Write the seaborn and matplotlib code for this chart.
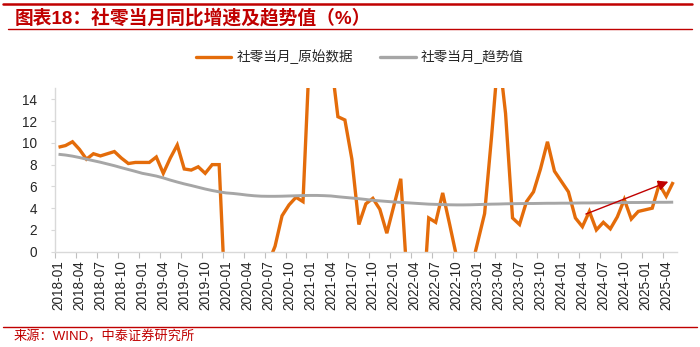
import numpy as np
import pandas as pd
import matplotlib
matplotlib.use("Agg")
import matplotlib.pyplot as plt
from matplotlib.lines import Line2D
import seaborn as sns

# ---------------- data ----------------
start_month = "2018-01"
n_months = 89  # 2018-01 .. 2025-05

raw_values = [
    9.6, 9.75, 10.1, 9.4, 8.5, 9.0, 8.8, 9.0, 9.2, 8.6, 8.1, 8.2,
    8.2, 8.2, 8.7, 7.2, 8.6, 9.8, 7.6, 7.5, 7.8, 7.2, 8.0, 8.0,
    -6.25, -20.5, -15.8, -7.5, -2.8, -1.8, -1.1, 0.5, 3.3, 4.3, 5.0, 4.6,
    19.2, 33.8, 34.2, 17.7, 12.4, 12.1, 8.5, 2.5, 4.4, 4.9, 3.9, 1.7,
    4.2, 6.7, -3.5, -11.1, -6.7, 3.1, 2.7, 5.4, 2.5, -0.5, -5.9, -1.8,
    0.85, 3.5, 10.6, 18.4, 12.7, 3.1, 2.5, 4.6, 5.5, 7.6, 10.1, 7.4,
    6.45, 5.5, 3.1, 2.3, 3.7, 2.0, 2.7, 2.1, 3.2, 4.8, 3.0, 3.7,
    3.85, 4.0, 6.2, 5.1, 6.4,
]

trend_values = [
    8.95, 8.88, 8.78, 8.65, 8.5, 8.36, 8.22, 8.06, 7.9, 7.72, 7.55, 7.38,
    7.2, 7.08, 6.95, 6.78, 6.58, 6.4, 6.23, 6.08, 5.92, 5.76, 5.62, 5.5,
    5.4, 5.35, 5.28, 5.2, 5.14, 5.1, 5.09, 5.09, 5.1, 5.12, 5.14, 5.16,
    5.17, 5.17, 5.15, 5.12, 5.05, 4.99, 4.93, 4.87, 4.8, 4.72, 4.67, 4.62,
    4.57, 4.53, 4.49, 4.45, 4.41, 4.37, 4.35, 4.33, 4.31, 4.3, 4.3, 4.31,
    4.33, 4.35, 4.37, 4.38, 4.4, 4.41, 4.42, 4.43, 4.43, 4.44, 4.45, 4.45,
    4.46, 4.46, 4.47, 4.48, 4.48, 4.49, 4.5, 4.5, 4.51, 4.51, 4.52, 4.52,
    4.53, 4.53, 4.54, 4.54, 4.55,
]

months = pd.period_range(start_month, periods=n_months, freq="M").strftime("%Y-%m").tolist()
label_step = 3
y_ticks = [0, 2, 4, 6, 8, 10, 12, 14]

series_raw = "社零当月_原始数据"
series_trend = "社零当月_趋势值"
title_text = "图表18：社零当月同比增速及趋势值（%）"
source_text = "来源：WIND，中泰证券研究所"

# trend arrow (start -> end) in data coords
arrow_start = (76.0, 3.46)
arrow_end = (87.8, 6.43)

# ---------------- style ----------------
sns.set_theme(style="white")
plt.rcParams["font.family"] = ["Liberation Sans", "Noto Sans CJK SC", "DejaVu Sans"]

ORANGE = "#E46C0A"
GRAY = "#A6A6A6"
RED = "#C00000"

pos = np.arange(n_months) + 0.5
df = pd.DataFrame({
    "x": np.concatenate([pos, pos]),
    "value": raw_values + trend_values,
    "series": [series_raw] * n_months + [series_trend] * n_months,
})

fig = plt.figure(figsize=(7.0, 3.47), dpi=100)
ax = fig.add_axes([0.0786, 0.2746, 0.9667 - 0.0786, 0.7452 - 0.2746])

sns.lineplot(data=df, x="x", y="value", hue="series",
             palette={series_raw: ORANGE, series_trend: GRAY},
             linewidth=2.3, ax=ax, legend=False, sort=False)
for ln, w in zip(ax.lines, [2.4, 2.1]):
    ln.set_linewidth(w)
    ln.set_solid_capstyle("butt")
    ln.set_solid_joinstyle("miter")

ax.set_xlim(0, n_months)
ax.set_ylim(0, 15)
ax.set_xlabel("")
ax.set_ylabel("")

# x ticks: marks at category boundaries, labels at category centres
major = np.arange(0, n_months, label_step)
ax.set_xticks(major)
ax.set_xticklabels([])
ax.set_xticks(major + 0.5, minor=True)
ax.set_xticklabels([months[i] for i in major], minor=True, rotation=90,
                   fontsize=9.8, color="#262626")
ax.tick_params(axis="x", which="major", length=4, width=0.8, color="#BFBFBF",
               direction="out", bottom=True)
ax.tick_params(axis="x", which="minor", length=0, pad=6, bottom=True)

ax.set_yticks(y_ticks)
ax.set_yticklabels([str(v) for v in y_ticks], fontsize=9.8, color="#262626")
ax.tick_params(axis="y", length=3, width=0.8, color="#D9D9D9", direction="out",
               left=True, pad=10)

for s in ["top", "right"]:
    ax.spines[s].set_visible(False)
ax.spines["left"].set_color("#D9D9D9")
ax.spines["left"].set_linewidth(1.0)
ax.spines["bottom"].set_color("#D9D9D9")
ax.spines["bottom"].set_linewidth(1.0)
ax.grid(False)

ax.annotate("", xy=arrow_end, xytext=arrow_start,
            arrowprops=dict(arrowstyle="-|>", color=RED, lw=1.0,
                            mutation_scale=15, shrinkA=0, shrinkB=0))

# legend
handles = [Line2D([], [], color=ORANGE, lw=2.4), Line2D([], [], color=GRAY, lw=2.4)]
fig.legend(handles, [series_raw, series_trend], loc="center",
           bbox_to_anchor=(0.514, 0.836), ncol=2, frameon=False,
           fontsize=9.8, handlelength=2.6, columnspacing=2.0, handletextpad=0.4)

# title and decorative rules
fig.add_artist(Line2D([0.004, 0.988], [1 - 4 / 347, 1 - 4 / 347],
                      transform=fig.transFigure, color=RED, lw=1.8))
fig.add_artist(Line2D([0.012, 0.988], [1 - 29 / 347, 1 - 29 / 347],
                      transform=fig.transFigure, color=RED, lw=1.0))
fig.text(15 / 700, 1 - 18 / 347, title_text, color=RED, fontsize=13.5,
         fontweight="bold", ha="left", va="center")

fig.add_artist(Line2D([0.004, 0.995], [1 - 327 / 347, 1 - 327 / 347],
                      transform=fig.transFigure, color=RED, lw=1.0))
fig.text(14 / 700, 1 - 336.5 / 347, source_text, color=RED, fontsize=9.5,
         ha="left", va="center")

fig.savefig("out.png", dpi=100)
